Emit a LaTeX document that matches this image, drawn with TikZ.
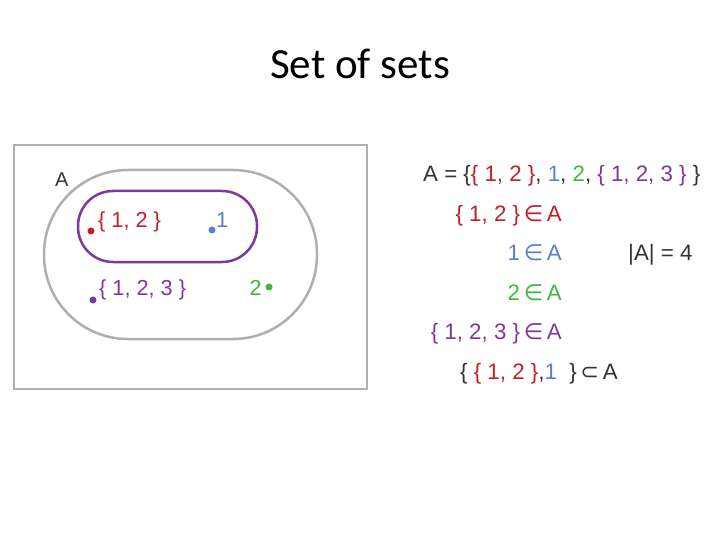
\documentclass[tikz,border=0pt]{standalone}
\usepackage{fontspec}
\setmainfont{Liberation Sans}
\newfontfamily\titlefont{Carlito}
\newfontfamily\symfont{DejaVu Sans}
\definecolor{cred}{HTML}{C0202A}
\definecolor{cblue}{HTML}{5B7FD0}
\definecolor{cgreen}{HTML}{3DB83D}
\definecolor{cpurple}{HTML}{7B3A9A}
\definecolor{cgray}{HTML}{AFAFAF}
\definecolor{ctext}{HTML}{333333}
\newcommand{\elt}{{\symfont ∈}}
\newcommand{\sbs}{{\symfont ⊂}}
\tikzset{
  venntxt/.style={font=\fontsize{21.7}{24}\selectfont, inner sep=0pt, anchor=base west},
  eqtxt/.style={font=\fontsize{22.3}{24}\selectfont, inner sep=0pt, text=ctext},
  pt/.style={circle, inner sep=0pt, minimum size=7pt},
}
\begin{document}
\begin{tikzpicture}[x=1pt,y=-1pt]
\useasboundingbox (0,0) rectangle (720,540);
\node[font=\titlefont\fontsize{43}{45}\selectfont, anchor=base, inner sep=0pt] (title) at (360,79) {Set of sets};
% diagram
\draw[cgray, line width=2.5pt] (14,145) rectangle (367,389);
\draw[cgray, line width=2.5pt, rounded corners=84pt] (44,170) rectangle (317,339);
\draw[cpurple, line width=2.5pt, rounded corners=35pt] (78,191) rectangle (257,262);
\node[venntxt, text=ctext, font=\fontsize{20}{22}\selectfont] (lblA) at (55,187) {A};
\node[pt, fill=cred] (d12) at (91,231) {};
\node[venntxt, text=cred] (t12) at (98,227) {\{ 1, 2 \}};
\node[pt, fill=cblue] (d1) at (212,230) {};
\node[venntxt, text=cblue] (t1) at (216,227) {1};
\node[pt, fill=cpurple] (d123) at (93,300) {};
\node[venntxt, text=cpurple] (t123) at (99,295) {\{ 1, 2, 3 \}};
\node[pt, fill=cgreen] (d2) at (269,287) {};
\node[venntxt, text=cgreen, anchor=base east] (t2) at (262,295) {2};
% equations
\node[eqtxt, anchor=base west] (eq1) at (423,182) {A = \{\textcolor{cred}{\{ 1, 2 \}}, \textcolor{cblue}{1}, \textcolor{cgreen}{2}, \textcolor{cpurple}{\{ 1, 2, 3 \}} \}};
\node[eqtxt, anchor=base east, text=cred] (eq2) at (562,221.5) {\{ 1, 2 \}\,\elt\,A};
\node[eqtxt, anchor=base east, text=cblue] (eq3) at (562,260.5) {1\,\elt\,A};
\node[eqtxt, anchor=base east, text=cgreen] (eq4) at (562,300) {2\,\elt\,A};
\node[eqtxt, anchor=base east, text=cpurple] (eq5) at (562,339) {\{ 1, 2, 3 \}\,\elt\,A};
\node[eqtxt, anchor=base west] (eq6) at (460,379) {\{ \textcolor{cred}{\{ 1, 2 \}},\textcolor{cblue}{1}\ \ \}\,\sbs\,A};
\node[eqtxt, anchor=base west] (card) at (628,260.5) {|A| = 4};
\end{tikzpicture}
\end{document}
